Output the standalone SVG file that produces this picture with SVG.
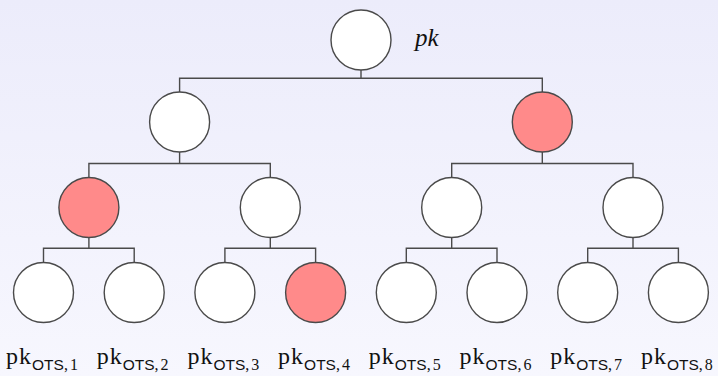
<svg xmlns="http://www.w3.org/2000/svg" width="718" height="376" viewBox="0 0 718 376">
<defs>
<linearGradient id="bg" x1="0" y1="0" x2="0" y2="1">
<stop offset="0" stop-color="#ececfb"/>
<stop offset="1" stop-color="#f7f7fe"/>
</linearGradient>
</defs>
<style>
.n{fill:#ffffff;stroke:#4a4a4a;stroke-width:1.4}
.r{fill:#ff8a8a;stroke:#4a4a4a;stroke-width:1.4}
.c{fill:none;stroke:#4a4a4a;stroke-width:1.4}
.pk{font-family:"Liberation Serif","DejaVu Serif",serif;font-size:24px;fill:#111;letter-spacing:1px}
.sub{font-family:"Liberation Sans","DejaVu Sans",sans-serif;font-size:15.5px;letter-spacing:0}
.subn{font-family:"Liberation Serif","DejaVu Serif",serif;font-size:16px;letter-spacing:2px}
</style>
<rect width="718" height="376" fill="url(#bg)"/>
<g id="connectors">
<path class="c" d="M361 70V78.3M179.6 92V78.3H542.3V92"/>
<path class="c" d="M179.6 152V163.5M88.9 177.5V163.5H270.3V177.5"/>
<path class="c" d="M542.3 152V163.5M451.7 177.5V163.5H633V177.5"/>
<path class="c" d="M88.9 237.5V248.3M43.5 262.5V248.3H134.2V262.5"/>
<path class="c" d="M270.3 237.5V248.3M224.9 262.5V248.3H315.6V262.5"/>
<path class="c" d="M451.7 237.5V248.3M406.3 262.5V248.3H497V262.5"/>
<path class="c" d="M633 237.5V248.3M587.7 262.5V248.3H678.4V262.5"/>
</g>
<g id="root"><circle class="n" cx="361" cy="40" r="30"/>
<text x="415" y="46" font-family="Liberation Serif,DejaVu Serif,serif" font-style="italic" font-size="25" fill="#111">pk</text></g>
<g id="n1"><circle class="n" cx="179.6" cy="122" r="30"/></g>
<g id="n2"><circle class="r" cx="542.3" cy="122" r="30"/></g>
<g id="n11"><circle class="r" cx="88.9" cy="207.5" r="30"/></g>
<g id="n12"><circle class="n" cx="270.3" cy="207.5" r="30"/></g>
<g id="n21"><circle class="n" cx="451.7" cy="207.5" r="30"/></g>
<g id="n22"><circle class="n" cx="633" cy="207.5" r="30"/></g>
<g id="leaf1"><circle class="n" cx="43.5" cy="292.5" r="30"/>
<text class="pk" x="6" y="364">pk<tspan class="sub" dy="6">OTS</tspan><tspan class="subn">,1</tspan></text></g>
<g id="leaf2"><circle class="n" cx="134.2" cy="292.5" r="30"/>
<text class="pk" x="96.7" y="364">pk<tspan class="sub" dy="6">OTS</tspan><tspan class="subn">,2</tspan></text></g>
<g id="leaf3"><circle class="n" cx="224.9" cy="292.5" r="30"/>
<text class="pk" x="187.4" y="364">pk<tspan class="sub" dy="6">OTS</tspan><tspan class="subn">,3</tspan></text></g>
<g id="leaf4"><circle class="r" cx="315.6" cy="292.5" r="30"/>
<text class="pk" x="278.1" y="364">pk<tspan class="sub" dy="6">OTS</tspan><tspan class="subn">,4</tspan></text></g>
<g id="leaf5"><circle class="n" cx="406.3" cy="292.5" r="30"/>
<text class="pk" x="368.8" y="364">pk<tspan class="sub" dy="6">OTS</tspan><tspan class="subn">,5</tspan></text></g>
<g id="leaf6"><circle class="n" cx="497" cy="292.5" r="30"/>
<text class="pk" x="459.5" y="364">pk<tspan class="sub" dy="6">OTS</tspan><tspan class="subn">,6</tspan></text></g>
<g id="leaf7"><circle class="n" cx="587.7" cy="292.5" r="30"/>
<text class="pk" x="550.2" y="364">pk<tspan class="sub" dy="6">OTS</tspan><tspan class="subn">,7</tspan></text></g>
<g id="leaf8"><circle class="n" cx="678.4" cy="292.5" r="30"/>
<text class="pk" x="640.9" y="364">pk<tspan class="sub" dy="6">OTS</tspan><tspan class="subn">,8</tspan></text></g>
</svg>
